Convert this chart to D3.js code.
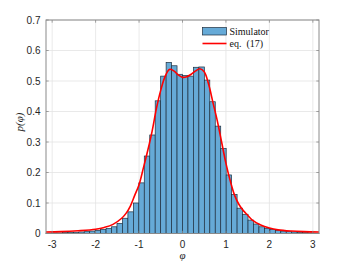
<!DOCTYPE html>
<html><head><meta charset="utf-8">
<script src="https://cdn.jsdelivr.net/npm/d3@7"></script>
<style>body{margin:0;background:#fff}svg{display:block}</style>
</head><body>
<div id="chart"></div>
<script>
// Histogram (Simulator): 50 equal bins over [-pi, pi]
const binCount = 50;
const histValues = [
  0.001,0.002,0.002,0.003,0.003,0.004,0.005,0.006,0.008,0.010,
  0.013,0.017,0.022,0.033,0.050,0.071,0.100,0.166,0.254,0.323,
  0.435,0.516,0.561,0.550,0.522,0.518,0.516,0.545,0.546,0.503,
  0.432,0.352,0.279,0.192,0.128,0.083,0.063,0.044,0.031,0.022,
  0.017,0.013,0.010,0.008,0.006,0.005,0.004,0.003,0.002,0.001
];
// eq. (17) curve
const curvePhi = [-3.1416,-2.8,-2.4,-2.0,-1.8,-1.6,-1.4,-1.3,-1.2,-1.1,-1.0,-0.9,-0.8,-0.7,-0.6,-0.5,-0.4,-0.3,-0.2,-0.1,0.0,0.1,0.2,0.3,0.4,0.5,0.6,0.7,0.8,0.9,1.0,1.1,1.2,1.3,1.4,1.5,1.6,1.8,2.0,2.2,2.5,2.8,3.1416];
const curvePdf = [0.005,0.006,0.009,0.014,0.020,0.030,0.050,0.066,0.090,0.125,0.160,0.215,0.272,0.335,0.410,0.470,0.515,0.538,0.533,0.520,0.512,0.514,0.522,0.533,0.540,0.530,0.490,0.430,0.370,0.300,0.230,0.172,0.125,0.095,0.075,0.060,0.045,0.028,0.018,0.012,0.008,0.006,0.005];
const xTicks = [-3,-2,-1,0,1,2,3];
const yTicks = [0,0.1,0.2,0.3,0.4,0.5,0.6,0.7];
const legendLabels = ["Simulator","eq.  (17)"];

const W = 353, H = 265;
const L = 46, R = 319, T = 20, B = 233.5;
const svg = d3.select("#chart").append("svg").attr("width", W).attr("height", H);

const x = d3.scaleLinear().domain([-Math.PI, Math.PI]).range([L, R]);
const y = d3.scaleLinear().domain([0, 0.7]).range([B, T]);

// grid
const g = svg.append("g");
g.selectAll(".gx").data(xTicks).join("line")
  .attr("x1", d => x(d)).attr("x2", d => x(d)).attr("y1", T).attr("y2", B)
  .attr("stroke", "#e3e3e3").attr("stroke-width", 0.8);
g.selectAll(".gy").data(yTicks).join("line")
  .attr("y1", d => y(d)).attr("y2", d => y(d)).attr("x1", L).attr("x2", R)
  .attr("stroke", "#e3e3e3").attr("stroke-width", 0.8);

// bars
const bw = 2 * Math.PI / binCount;
svg.append("g").selectAll("rect").data(histValues).join("rect")
  .attr("x", (d, i) => x(-Math.PI + i * bw))
  .attr("width", (d, i) => x(-Math.PI + (i + 1) * bw) - x(-Math.PI + i * bw))
  .attr("y", d => y(d))
  .attr("height", d => y(0) - y(d))
  .attr("fill", "#66aad7")
  .attr("stroke", "#1f2f3f").attr("stroke-width", 0.7);

// curve
const pts = curvePhi.map((p, i) => [p, curvePdf[i]]);
svg.append("path").datum(pts)
  .attr("d", d3.line().x(d => x(d[0])).y(d => y(d[1])).curve(d3.curveCatmullRom.alpha(0.5)))
  .attr("fill", "none").attr("stroke", "#ff0000").attr("stroke-width", 1.6);

// axes box
const axisColor = "#8a8a8a";
svg.append("rect").attr("x", L).attr("y", T).attr("width", R - L).attr("height", B - T)
  .attr("fill", "none").attr("stroke", axisColor).attr("stroke-width", 1);

// ticks (inward, all sides)
const tl = 2.7;
const tk = svg.append("g").attr("stroke", axisColor).attr("stroke-width", 0.8);
xTicks.forEach(t => {
  tk.append("line").attr("x1", x(t)).attr("x2", x(t)).attr("y1", B).attr("y2", B - tl);
  tk.append("line").attr("x1", x(t)).attr("x2", x(t)).attr("y1", T).attr("y2", T + tl);
});
yTicks.forEach(t => {
  tk.append("line").attr("y1", y(t)).attr("y2", y(t)).attr("x1", L).attr("x2", L + tl);
  tk.append("line").attr("y1", y(t)).attr("y2", y(t)).attr("x1", R).attr("x2", R - tl);
});

// tick labels
const font = "'Liberation Sans', Arial, sans-serif";
svg.append("g").selectAll("text").data(xTicks).join("text")
  .attr("x", d => x(d)).attr("y", 247.5).attr("text-anchor", "middle")
  .attr("font-family", font).attr("font-size", 10).attr("fill", "#262626")
  .text(d => d);
svg.append("g").selectAll("text").data(yTicks).join("text")
  .attr("x", 40.5).attr("y", d => y(d) + 3.6).attr("text-anchor", "end")
  .attr("font-family", font).attr("font-size", 10).attr("fill", "#262626")
  .text(d => d === 0 ? "0" : d3.format(".1f")(d));

// axis labels
const serif = "'Liberation Serif', 'DejaVu Serif', serif";
svg.append("text").attr("x", 182.5).attr("y", 259).attr("text-anchor", "middle")
  .attr("font-family", serif).attr("font-style", "italic").attr("font-size", 11)
  .attr("fill", "#262626").text("φ");
svg.append("text").attr("transform", "translate(23,122) rotate(-90)")
  .attr("text-anchor", "middle")
  .attr("font-family", serif).attr("font-style", "italic").attr("font-size", 11)
  .attr("fill", "#262626").text("p(φ)");

// legend
const lg = svg.append("g");
lg.append("rect").attr("x", 202.5).attr("y", 27.5).attr("width", 24).attr("height", 7.5)
  .attr("fill", "#66aad7").attr("stroke", "#1f2f3f").attr("stroke-width", 0.7);
lg.append("line").attr("x1", 202.5).attr("x2", 226.5).attr("y1", 43.5).attr("y2", 43.5)
  .attr("stroke", "#ff0000").attr("stroke-width", 1.6);
lg.selectAll("text").data(legendLabels).join("text")
  .attr("x", 229.5).attr("y", (d, i) => 35 + i * 12)
  .attr("font-family", serif).attr("font-size", 10).attr("fill", "#111")
  .attr("xml:space", "preserve").style("white-space", "pre")
  .text(d => d);
</script>
</body></html>
